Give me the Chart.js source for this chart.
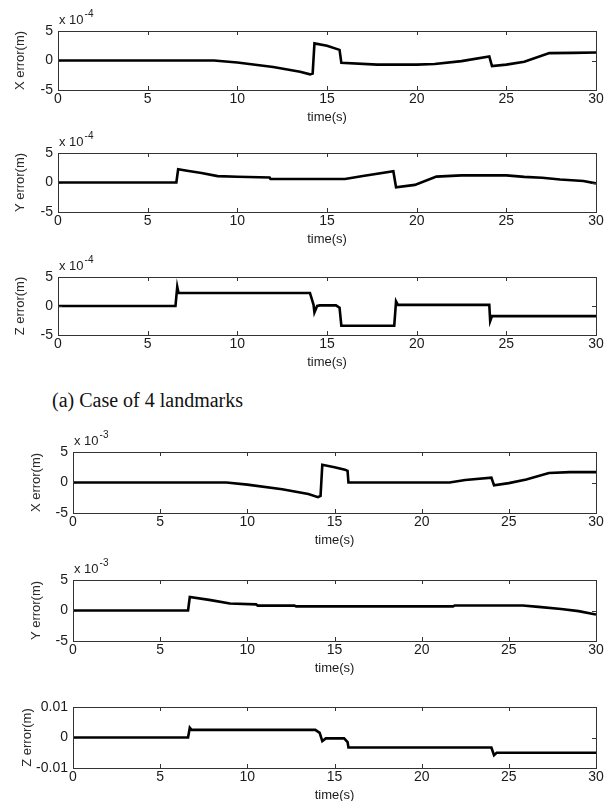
<!DOCTYPE html>
<html>
<head>
<meta charset="utf-8">
<script src="https://cdn.jsdelivr.net/npm/chart.js@4.4.0/dist/chart.umd.min.js"></script>
<style>
  body { margin: 0; background: #fff; width: 613px; height: 801px; position: relative; overflow: hidden; }
  canvas { position: absolute; left: 0; }
  #caption { position: absolute; left: 52px; top: 389px; font-family: "Liberation Serif", "DejaVu Serif", serif; font-size: 20px; color: #111; }
</style>
</head>
<body>
<canvas id="c1"></canvas>
<canvas id="c2"></canvas>
<canvas id="c3"></canvas>
<div id="caption">(a) Case of 4 landmarks</div>
<canvas id="c4"></canvas>
<canvas id="c5"></canvas>
<canvas id="c6"></canvas>
<script>
// values, time in s
// case (a) 4 landmarks, errors in units of 1e-4 m
const tXa = [0, 8.7, 10, 12, 13.5, 14.05, 14.2, 14.3, 15, 15.7, 15.8, 17.8, 20, 21, 22.5, 24.05, 24.2, 25, 26, 27.4, 28.7, 30];
const xErrA = [0, 0, -0.35, -1.1, -1.9, -2.35, -2.2, 2.9, 2.5, 1.8, -0.4, -0.7, -0.7, -0.6, -0.1, 0.7, -0.95, -0.7, -0.2, 1.25, 1.3, 1.35];

const tYa = [0, 6.6, 6.7, 7.2, 8, 8.9, 10, 11.8, 11.85, 16, 17, 18.7, 18.85, 19.9, 21.1, 22.5, 25, 26, 27, 28, 29.3, 30];
const yErrA = [0, 0, 2.25, 2.0, 1.6, 1.08, 0.97, 0.85, 0.6, 0.6, 1.1, 1.9, -0.8, -0.4, 1.0, 1.2, 1.2, 0.95, 0.8, 0.5, 0.25, -0.15];

const tZa = [0, 6.55, 6.65, 6.72, 14.05, 14.25, 14.3, 14.45, 14.6, 15.5, 15.7, 15.8, 18.75, 18.85, 18.95, 24.05, 24.1, 24.2, 30];
const zErrA = [0, 0, 3.3, 2.25, 2.25, 0.2, -1.1, 0, 0.1, 0.1, -0.3, -3.4, -3.4, 0.8, 0.2, 0.2, -2.6, -1.75, -1.75];

// second case, x and y errors in units of 1e-3 m, z error in m
const tXb = [0, 8.8, 10, 12, 13.5, 14.05, 14.2, 14.3, 15, 15.6, 15.75, 15.8, 21.6, 22.5, 24.0, 24.15, 25, 26, 27.3, 28.5, 30];
const xErrB = [0, 0, -0.35, -1.1, -1.9, -2.4, -2.2, 2.9, 2.5, 2.1, 1.9, 0, 0, 0.4, 0.8, -0.45, -0.1, 0.5, 1.55, 1.7, 1.7];

const tYb = [0, 6.6, 6.7, 7.9, 9, 10.5, 10.6, 12.7, 12.8, 21.8, 21.9, 25.8, 26.7, 28, 29, 30];
const yErrB = [0, 0, 2.2, 1.7, 1.15, 1.0, 0.8, 0.8, 0.67, 0.67, 0.83, 0.83, 0.6, 0.25, -0.1, -0.65];

const tZb = [0, 6.6, 6.7, 6.8, 13.9, 14.15, 14.3, 14.5, 15.55, 15.75, 15.8, 24.0, 24.15, 24.3, 30];
const zErrB = [0, 0, 0.0032, 0.0025, 0.0025, 0.0015, -0.0012, -0.0003, -0.0003, -0.0015, -0.0033, -0.0033, -0.0058, -0.005, -0.005];

const timeTicks = [0, 5, 10, 15, 20, 25, 30];

const panels = [
  { id: 'c1', t: tXa, v: xErrA, exp: -4, label: 'X error(m)', box: [58, 31, 596, 90], titlePad: 13 },
  { id: 'c2', t: tYa, v: yErrA, exp: -4, label: 'Y error(m)', box: [58, 153, 596, 212], titlePad: 13 },
  { id: 'c3', t: tZa, v: zErrA, exp: -4, label: 'Z error(m)', box: [58, 277, 596, 335], titlePad: 13 },
  { id: 'c4', t: tXb, v: xErrB, exp: -3, label: 'X error(m)', box: [73, 452, 596, 513], titlePad: 29 },
  { id: 'c5', t: tYb, v: yErrB, exp: -3, label: 'Y error(m)', box: [73, 580, 596, 641], titlePad: 29 },
  { id: 'c6', t: tZb, v: zErrB, exp: null, label: 'Z error(m)', box: [73, 707, 596, 768], titlePad: 20 }
];

const FONT = 'Liberation Sans, Arial, sans-serif';
const TOP_ROOM = 28, BOTTOM_ROOM = 37;

// matlab style box, inward ticks and the "x 10^n" multiplier
const matlabBox = {
  id: 'matlabBox',
  afterDatasetsDraw(chart, args, opts) {
    const { ctx, chartArea: a, scales } = chart;
    ctx.save();
    ctx.strokeStyle = '#333';
    ctx.lineWidth = 1;
    ctx.strokeRect(Math.round(a.left) + 0.5, Math.round(a.top) + 0.5, Math.round(a.right - a.left), Math.round(a.bottom - a.top));
    const len = 4;
    function seg(x1, y1, x2, y2) { ctx.beginPath(); ctx.moveTo(x1, y1); ctx.lineTo(x2, y2); ctx.stroke(); }
    scales.x.ticks.forEach(tk => {
      const px = Math.round(scales.x.getPixelForValue(tk.value)) + 0.5;
      seg(px, a.bottom, px, a.bottom - len);
      seg(px, a.top, px, a.top + len);
    });
    scales.y.ticks.forEach(tk => {
      const py = Math.round(scales.y.getPixelForValue(tk.value)) + 0.5;
      seg(a.left, py, a.left + len, py);
      seg(a.right, py, a.right - len, py);
    });
    if (opts.exp !== null && opts.exp !== undefined) {
      ctx.fillStyle = '#222';
      ctx.textBaseline = 'alphabetic';
      ctx.font = '13px ' + FONT;
      const x0 = a.left + 1;
      ctx.fillText('x 10', x0, a.top - 7);
      const w = ctx.measureText('x 10').width;
      ctx.font = '10px ' + FONT;
      ctx.fillText(String(opts.exp), x0 + w + 1, a.top - 14);
    }
    ctx.restore();
  }
};

panels.forEach(p => {
  const [left, top, right, bottom] = p.box;
  const cv = document.getElementById(p.id);
  cv.width = 613;
  cv.height = (bottom - top) + TOP_ROOM + BOTTOM_ROOM;
  cv.style.top = (top - TOP_ROOM) + 'px';

  const scale = p.exp === null ? 1 : Math.pow(10, p.exp);
  const lim = p.exp === null ? 0.01 : 5 * scale;
  const pts = p.t.map((t, i) => ({ x: t, y: p.v[i] * scale }));

  new Chart(cv, {
    type: 'line',
    data: {
      datasets: [{
        data: pts,
        borderColor: '#000',
        borderWidth: 2.6,
        pointRadius: 0,
        tension: 0,
        fill: false
      }]
    },
    options: {
      responsive: false,
      animation: false,
      devicePixelRatio: 1,
      layout: { padding: { top: TOP_ROOM, right: 613 - right, left: 0, bottom: 0 } },
      plugins: {
        legend: { display: false },
        tooltip: { enabled: false },
        matlabBox: { exp: p.exp }
      },
      scales: {
        x: {
          type: 'linear',
          min: 0,
          max: 30,
          afterBuildTicks: s => { s.ticks = timeTicks.map(v => ({ value: v })); },
          ticks: { color: '#1a1a1a', font: { family: FONT, size: 14 }, padding: 1, maxRotation: 0, autoSkip: false },
          grid: { display: false, drawTicks: false },
          border: { display: false },
          title: { display: true, text: 'time(s)', color: '#1a1a1a', font: { family: FONT, size: 13 }, padding: { top: 0, bottom: 2 } },
          afterFit: s => { s.height = BOTTOM_ROOM; }
        },
        y: {
          min: -lim,
          max: lim,
          afterBuildTicks: s => { s.ticks = [-lim, 0, lim].map(v => ({ value: v })); },
          ticks: {
            color: '#1a1a1a',
            font: { family: FONT, size: 14 },
            padding: 5,
            callback: v => p.exp === null ? String(Math.round(v * 100) / 100) : String(Math.round(v / scale))
          },
          grid: { display: false, drawTicks: false },
          border: { display: false },
          title: { display: true, text: p.label, color: '#2a2a2a', font: { family: FONT, size: 13 }, padding: { top: p.titlePad, bottom: 0 } },
          afterFit: s => { s.width = left; }
        }
      }
    },
    plugins: [matlabBox]
  });
});
</script>
</body>
</html>
